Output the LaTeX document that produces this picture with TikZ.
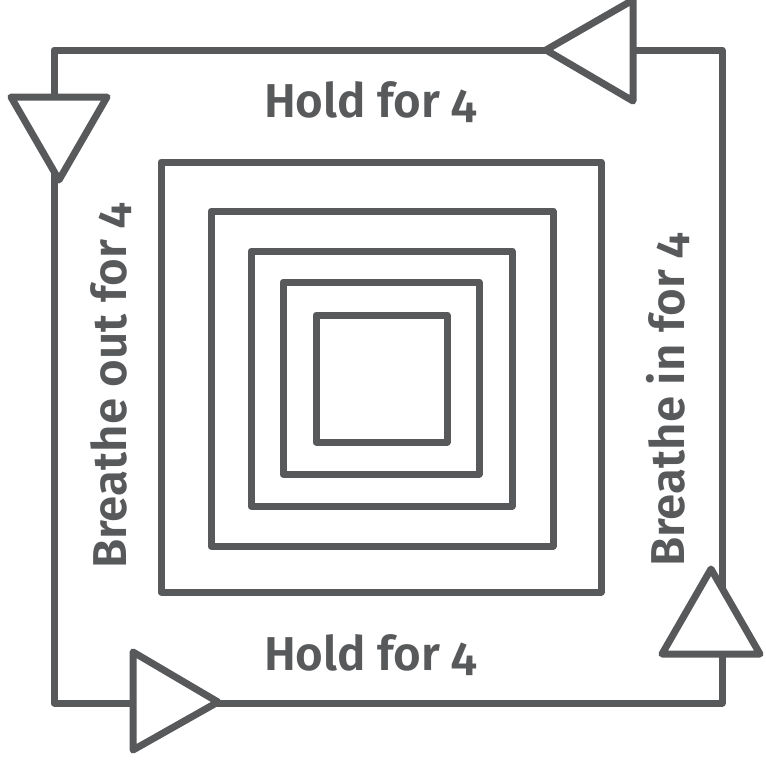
\documentclass[tikz,border=0pt]{standalone}
\usepackage{fontspec}
\setmainfont{Fira Sans}[Numbers=OldStyle, BoldFont={Fira Sans SemiBold}]
\definecolor{ink}{HTML}{58595B}
\begin{document}
\begin{tikzpicture}[x=1pt, y=-1pt,
  stroke/.style={draw=ink, line width=7pt, line join=round, line cap=round},
  arrowhead/.style={stroke, fill=white},
  label/.style={text=ink, font=\fontsize{47.5}{50}\selectfont\bfseries, inner sep=0pt}]
  \useasboundingbox (0,0) rectangle (766,761);
  % outer cycle
  \draw[stroke] (54,50) -- (722,50) -- (722,703) -- (54,703) -- cycle;
  % direction markers on the cycle
  \draw[arrowhead] (11,97) -- (107,97) -- (59,180) -- cycle;
  \draw[arrowhead] (633,0) -- (633,101) -- (546,50) -- cycle;
  \draw[arrowhead] (133,652) -- (133,750) -- (218,702) -- cycle;
  \draw[arrowhead] (662,654) -- (760,654) -- (711,569) -- cycle;
  % nested squares
  \draw[stroke] (161,162) rectangle (601,592);
  \draw[stroke] (211,211) rectangle (553,546);
  \draw[stroke] (251,251) rectangle (512,506);
  \draw[stroke] (283,282) rectangle (479,474);
  \draw[stroke] (316,315) rectangle (447,442);
  % labels
  \node[label, anchor=base] (top) at (370.5,117) {Hold for 4};
  \node[label, anchor=base] (bottom) at (370.5,670) {Hold for 4};
  \node[label, anchor=base, rotate=90] (left) at (126,386) {Breathe out for 4};
  \node[label, anchor=base, rotate=90] (right) at (684,400) {Breathe in for 4};
\end{tikzpicture}
\end{document}
